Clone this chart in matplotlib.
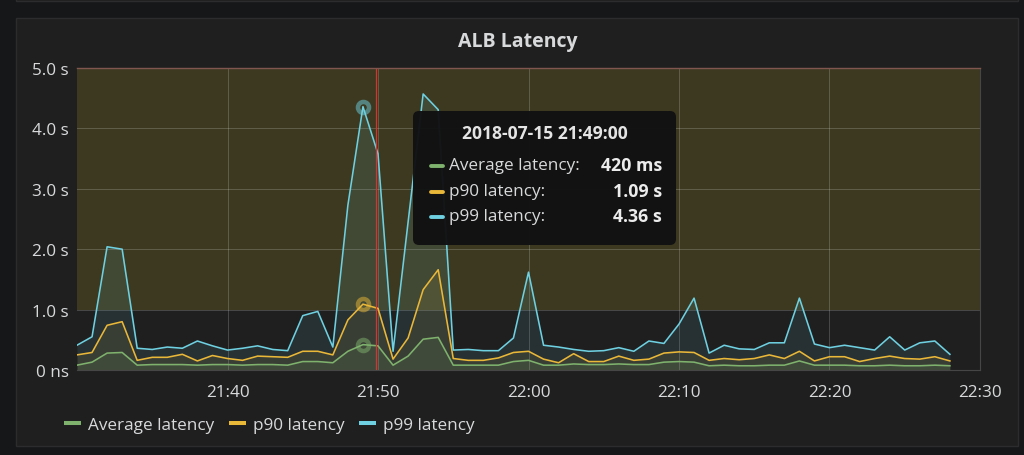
import matplotlib
matplotlib.use("Agg")
import matplotlib.pyplot as plt
import matplotlib.dates as mdates
from matplotlib.patches import FancyBboxPatch, Rectangle
from matplotlib.lines import Line2D
import pandas as pd

plt.rcParams['font.family'] = ['Open Sans', 'DejaVu Sans']

# ---------------- data ----------------
title = "ALB Latency"
series_names = ["Average latency", "p90 latency", "p99 latency"]
series_colors = ["#7eb26d", "#eab839", "#6ed0e0"]
times = pd.date_range("2018-07-15 21:30", periods=59, freq="1min")

avg_latency = [0.08, 0.13, 0.28, 0.29, 0.08, 0.09, 0.09, 0.09, 0.08, 0.09,
               0.09, 0.08, 0.09, 0.09, 0.08, 0.14, 0.14, 0.12, 0.31, 0.42,
               0.40, 0.08, 0.23, 0.51, 0.54, 0.08, 0.08, 0.08, 0.08, 0.14,
               0.16, 0.08, 0.08, 0.10, 0.09, 0.09, 0.10, 0.09, 0.09, 0.13,
               0.14, 0.13, 0.07, 0.08, 0.07, 0.07, 0.08, 0.08, 0.15, 0.08,
               0.08, 0.08, 0.07, 0.07, 0.08, 0.07, 0.07, 0.08, 0.07]
p90_latency = [0.25, 0.29, 0.74, 0.80, 0.16, 0.21, 0.21, 0.26, 0.15, 0.24,
               0.19, 0.16, 0.23, 0.22, 0.21, 0.31, 0.31, 0.25, 0.83, 1.09,
               1.02, 0.18, 0.53, 1.33, 1.66, 0.19, 0.16, 0.16, 0.20, 0.29,
               0.31, 0.18, 0.12, 0.27, 0.14, 0.14, 0.23, 0.16, 0.18, 0.28,
               0.30, 0.29, 0.16, 0.19, 0.17, 0.19, 0.25, 0.19, 0.31, 0.15,
               0.22, 0.22, 0.14, 0.19, 0.23, 0.19, 0.18, 0.22, 0.15]
p99_latency = [0.41, 0.55, 2.04, 2.00, 0.36, 0.34, 0.38, 0.36, 0.48, 0.40,
               0.33, 0.36, 0.40, 0.34, 0.32, 0.90, 0.97, 0.38, 2.73, 4.36,
               3.58, 0.31, 2.45, 4.57, 4.31, 0.33, 0.34, 0.32, 0.32, 0.53,
               1.62, 0.41, 0.38, 0.34, 0.31, 0.32, 0.37, 0.31, 0.48, 0.44,
               0.76, 1.19, 0.28, 0.41, 0.35, 0.34, 0.45, 0.45, 1.19, 0.43,
               0.37, 0.41, 0.37, 0.33, 0.55, 0.33, 0.45, 0.48, 0.26]
series_values = [avg_latency, p90_latency, p99_latency]

yticks = [0, 1, 2, 3, 4, 5]
ytick_labels = ["0 ns", "1.0 s", "2.0 s", "3.0 s", "4.0 s", "5.0 s"]
xtick_times = pd.to_datetime(["2018-07-15 21:40", "2018-07-15 21:50", "2018-07-15 22:00",
                              "2018-07-15 22:10", "2018-07-15 22:20", "2018-07-15 22:30"])
x_range = pd.to_datetime(["2018-07-15 21:30", "2018-07-15 22:30"])
warn_threshold = 1.0
y_max = 5.0
hover_time = pd.Timestamp("2018-07-15 21:49:00")
cursor_time = pd.Timestamp("2018-07-15 21:49:53")

# ---------------- styling ----------------
W, H = 1024, 456
outer_bg = "#161719"
panel_bg = "#1f1f20"
text_col = "#d8d9da"

fig = plt.figure(figsize=(W / 100, H / 100), dpi=100, facecolor=outer_bg)

# background (panel) layer in pixel coordinates
bg = fig.add_axes([0, 0, 1, 1], zorder=0)
bg.set_xlim(0, W); bg.set_ylim(H, 0); bg.axis('off')
bg.add_patch(Rectangle((16, -10), 1002, 11.5, fc=panel_bg, ec="#2c2c2e", lw=1))
bg.add_patch(Rectangle((16, 19), 1002, 428, fc=panel_bg, ec="#2c2c2e", lw=1))

# main chart
ax = fig.add_axes([77 / W, 1 - 371 / H, 903 / W, 302 / H], zorder=1)
ax.set_facecolor("none")
ax.axhspan(warn_threshold, y_max, color="#3c3920", lw=0, zorder=0)

for vals, c in zip(series_values, series_colors):
    ax.fill_between(times, 0, vals, color=c, alpha=0.1, lw=0, zorder=1)
for vals, c in zip(series_values, series_colors):
    ax.plot(times, vals, color=c, lw=1.15, zorder=2)

hover_idx = list(times).index(hover_time)
for vals, c in zip(series_values, series_colors):
    ax.plot([times[hover_idx]], [vals[hover_idx]], 'o', ms=8.0, mfc='none',
            mec=c, mew=3.2, alpha=0.5, zorder=3)

ax.axvline(cursor_time, color="#e02f2f", lw=0.9, zorder=4)
ax.axhline(y_max, color="#80564f", lw=1.0, zorder=4, clip_on=False)

ax.set_xlim(x_range[0], x_range[1])
ax.set_ylim(0, y_max)
ax.set_yticks(yticks)
ax.set_yticklabels(ytick_labels)
ax.set_xticks(xtick_times)
ax.xaxis.set_major_formatter(mdates.DateFormatter("%H:%M"))
ax.set_axisbelow(True)
ax.grid(True, color="white", alpha=0.18, lw=0.75)
ax.tick_params(length=0, colors=text_col, labelsize=12.3)
ax.tick_params(axis='y', pad=6)
ax.tick_params(axis='x', pad=10)
for s in ["left", "top"]:
    ax.spines[s].set_visible(False)
for s in ["bottom", "right"]:
    ax.spines[s].set_color("#464646")
    ax.spines[s].set_linewidth(0.8)

# title
fig.text(518 / W, 1 - 42 / H, title, ha='center', va='center', fontsize=14,
         weight='bold', color=text_col)

# legend
handles = [Line2D([], [], color=c, lw=2.9, solid_capstyle='butt') for c in series_colors]
fig.legend(handles, series_names, loc='center left', bbox_to_anchor=(64 / W, 1 - 426 / H),
           ncol=3, frameon=False, fontsize=12.3, handlelength=1.0, handletextpad=0.4,
           columnspacing=0.85, labelcolor=text_col, borderaxespad=0, borderpad=0)

# tooltip overlay
ov = fig.add_axes([0, 0, 1, 1], zorder=5)
ov.set_xlim(0, W); ov.set_ylim(H, 0); ov.axis('off')
ov.add_patch(FancyBboxPatch((413, 112), 263, 134, boxstyle="round,pad=0,rounding_size=6",
                            fc="#111112", ec="none", alpha=0.97))
ov.text(545, 134, hover_time.strftime("%Y-%m-%d %H:%M:%S"), ha='center', va='center',
        fontsize=12.6, weight='bold', color="#e4e4e4")


def fmt(v):
    return f"{v * 1000:.0f} ms" if v < 1 else f"{v:.2f} s"


for i, (name, vals, c) in enumerate(zip(series_names, series_values, series_colors)):
    y = 166 + i * 25.6
    ov.plot([431, 443], [y + 1, y + 1], color=c, lw=2.8, solid_capstyle='round')
    ov.text(449, y, name + ":", ha='left', va='center', fontsize=12.3, color=text_col)
    ov.text(662, y, fmt(vals[hover_idx]), ha='right', va='center', fontsize=12.8,
            weight='bold', color="#ececec")

fig.savefig("out.png", dpi=100, facecolor=outer_bg)
